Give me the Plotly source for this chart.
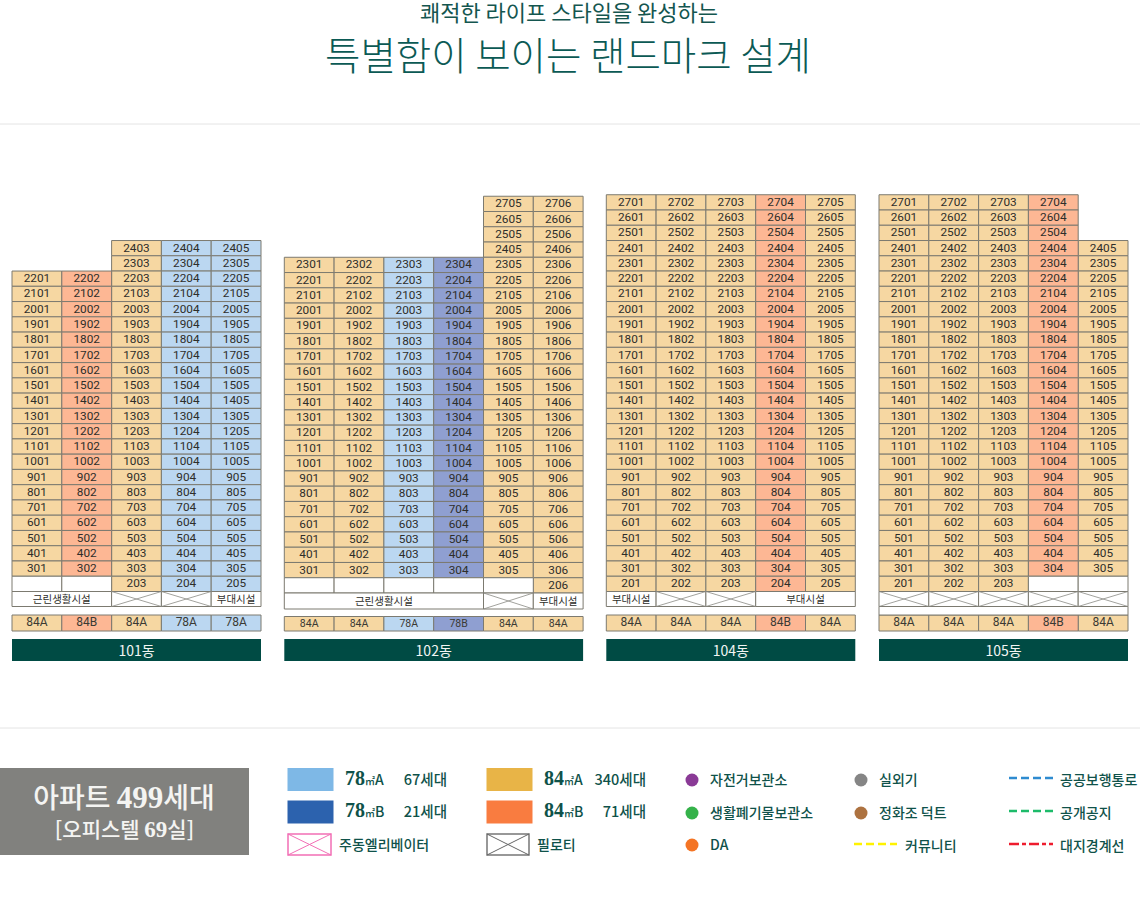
import plotly.graph_objects as go

# ---- data ----
TITLE_TOP = "쾌적한 라이프 스타일을 완성하는"
TITLE_MAIN = "특별함이 보이는 랜드마크 설계"

BUILDINGS = ["101동", "102동", "104동", "105동"]

TYPES_101 = ["84A", "84B", "84A", "78A", "78A"]
TOPS_101 = [22, 22, 24, 24, 24]
LOWS_101 = [3, 3, 2, 2, 2]
BASE_101 = [("근린생활시설", 2), ("X", 1), ("X", 1), ("부대시설", 1)]

TYPES_102 = ["84A", "84A", "78A", "78B", "84A", "84A"]
TOPS_102 = [23, 23, 23, 23, 27, 27]
LOWS_102 = [3, 3, 3, 3, 3, 2]
BASE_102 = [("근린생활시설", 4), ("X", 1), ("부대시설", 1)]

TYPES_104 = ["84A", "84A", "84A", "84B", "84A"]
TOPS_104 = [27, 27, 27, 27, 27]
LOWS_104 = [2, 2, 2, 2, 2]
BASE_104 = [("부대시설", 1), ("X", 1), ("X", 1), ("부대시설", 2)]

TYPES_105 = ["84A", "84A", "84A", "84B", "84A"]
TOPS_105 = [27, 27, 27, 27, 24]
LOWS_105 = [2, 2, 2, 3, 3]
BASE_105 = [("X", 1), ("X", 1), ("X", 1), ("X", 1), ("X", 1)]

LEGEND_AREAS = ["78㎡A", "78㎡B", "84㎡A", "84㎡B"]
LEGEND_COUNTS = ["67세대", "21세대", "340세대", "71세대"]
LEGEND_DOTS = ["자전거보관소", "생활폐기물보관소", "DA", "실외기", "정화조 덕트"]
LEGEND_LINES = ["커뮤니티", "공공보행통로", "공개공지", "대지경계선"]

# ---- styles ----
CELL_COLORS = {"84A": "#F6D7A2", "84B": "#FDB794", "78A": "#BBD7F1", "78B": "#8F9FD1", "W": "#FFFFFF"}
BORDER = "#7C7A70"
DARK = "#004B44"
TEAL = "#0F524A"
KR = "Noto Sans CJK KR"
NUM = "Roboto"
ROW_H = 15.26
COL_W = 49.8

layout_info = [
    # types, tops, lows, base, left, floor 2 bottom, base bottom, type top, type font
    (TYPES_101, TOPS_101, LOWS_101, BASE_101, 12, 591.5, 606.5, 615, 12),
    (TYPES_102, TOPS_102, LOWS_102, BASE_102, 284.3, 593, 609, 616.5, 10.5),
    (TYPES_104, TOPS_104, LOWS_104, BASE_104, 606.3, 591.5, 606.5, 615, 12),
    (TYPES_105, TOPS_105, LOWS_105, BASE_105, 879, 591.5, 606.5, 615, 12),
]

bars = {k: {"x": [], "base": [], "h": [], "w": []} for k in CELL_COLORS}
cell_x, cell_y, cell_t = [], [], []
type_x, type_y, type_t, type_s = [], [], [], []
base_x, base_y, base_t = [], [], []
cross_x, cross_y = [], []


def add_cell(kind, x0, x1, y0, y1):
    b = bars[kind]
    b["x"].append((x0 + x1) / 2)
    b["w"].append(x1 - x0)
    b["base"].append(y0)
    b["h"].append(y1 - y0)


def add_cross(xs, ys, x0, x1, y0, y1):
    xs += [x0, x1, None, x0, x1, None]
    ys += [y0, y1, None, y1, y0, None]


for types, tops, lows, base, left, y2, y_base, y_type, type_font in layout_info:
    for i, kind in enumerate(types):
        x0 = left + i * COL_W
        x1 = x0 + COL_W
        for floor in range(tops[i], 1, -1):
            top = y2 - (floor - 1) * ROW_H
            if floor < lows[i]:
                add_cell("W", x0, x1, top, top + ROW_H)
                continue
            add_cell(kind, x0, x1, top, top + ROW_H)
            cell_x.append((x0 + x1) / 2)
            cell_y.append(top + ROW_H / 2 + 0.6)
            cell_t.append(f"{floor}{i + 1:02d}")
        add_cell(kind, x0, x1, y_type, 631)
        type_x.append((x0 + x1) / 2)
        type_y.append((y_type + 631) / 2 + 0.3)
        type_t.append(kind)
        type_s.append(type_font)
    col = 0
    for label, span in base:
        x0 = left + col * COL_W
        x1 = x0 + span * COL_W
        add_cell("W", x0, x1, y2, y_base)
        if label == "X":
            add_cross(cross_x, cross_y, x0, x1, y2, y_base)
        else:
            base_x.append((x0 + x1) / 2)
            base_y.append((y2 + y_base) / 2 + 1)
            base_t.append(label)
        col += span
    if y_type - y_base < 8.6 and left > 800:
        add_cell("W", left, left + 5 * COL_W, y_base, y_type)

fig = go.Figure()

for kind, b in bars.items():
    fig.add_trace(go.Bar(x=b["x"], y=b["h"], base=b["base"], width=b["w"],
                         marker=dict(color=CELL_COLORS[kind], line=dict(color=BORDER, width=1)),
                         hoverinfo="skip"))

# building name bars
name_x, name_w = [], []
for types, tops, lows, base, left, *_ in layout_info:
    name_x.append(left + len(types) * COL_W / 2)
    name_w.append(len(types) * COL_W)
fig.add_trace(go.Bar(x=name_x, y=[22] * 4, base=[639] * 4, width=name_w,
                     marker=dict(color=DARK, line=dict(width=0)), hoverinfo="skip"))
fig.add_trace(go.Scatter(x=name_x, y=[652] * 4, mode="text", text=BUILDINGS, hoverinfo="skip",
                         textfont=dict(family=KR, size=14, color="#F2F5F3")))

# summary box and colour swatches
fig.add_trace(go.Bar(x=[124.5], y=[87], base=[768], width=[249],
                     marker=dict(color="#81817E", line=dict(width=0)), hoverinfo="skip"))
swatch_colors = ["#7EB8E6", "#2C62AE", "#E8B447", "#F97C40"]
fig.add_trace(go.Bar(x=[310.5, 310.5, 509.5, 509.5], y=[23, 23, 23, 23], base=[768, 800.5, 768, 800.5],
                     width=[46] * 4, marker=dict(color=swatch_colors, line=dict(width=0)), hoverinfo="skip"))
fig.add_trace(go.Bar(x=[309.5], y=[21], base=[834], width=[43],
                     marker=dict(color="#FFFFFF", line=dict(color="#F26FB5", width=1.5)), hoverinfo="skip"))
fig.add_trace(go.Bar(x=[508], y=[21], base=[834], width=[42],
                     marker=dict(color="#FFFFFF", line=dict(color="#777777", width=1.5)), hoverinfo="skip"))

# crosses
fig.add_trace(go.Scatter(x=cross_x, y=cross_y, mode="lines", line=dict(color="#8A8A84", width=0.8), hoverinfo="skip"))
pink_x, pink_y, gray_x, gray_y = [], [], [], []
add_cross(pink_x, pink_y, 288, 331, 834, 855)
add_cross(gray_x, gray_y, 487, 529, 834, 855)
fig.add_trace(go.Scatter(x=pink_x, y=pink_y, mode="lines", line=dict(color="#F26FB5", width=1), hoverinfo="skip"))
fig.add_trace(go.Scatter(x=gray_x, y=gray_y, mode="lines", line=dict(color="#666666", width=1), hoverinfo="skip"))

# divider lines
fig.add_trace(go.Scatter(x=[0, 1140, None, 0, 1140], y=[124, 124, None, 728, 728], mode="lines",
                         line=dict(color="#E4E4E4", width=1), hoverinfo="skip"))

# cell labels
fig.add_trace(go.Scatter(x=cell_x, y=cell_y, mode="text", text=cell_t, hoverinfo="skip",
                         textfont=dict(family=NUM, size=11.8, color="#2E2E2A")))
fig.add_trace(go.Scatter(x=type_x, y=type_y, mode="text", text=type_t, hoverinfo="skip",
                         textfont=dict(family=NUM, size=type_s, color="#3A3A34")))
fig.add_trace(go.Scatter(x=base_x, y=base_y, mode="text", text=base_t, hoverinfo="skip",
                         textfont=dict(family=KR, size=10.5, color="#2E2E2A")))

# titles
fig.add_trace(go.Scatter(x=[569], y=[15.5], mode="text", text=[TITLE_TOP], hoverinfo="skip",
                         textfont=dict(family=KR, size=22, color="#14564F")))
fig.add_trace(go.Scatter(x=[568], y=[60], mode="text", text=[TITLE_MAIN], hoverinfo="skip",
                         textfont=dict(family=KR, size=38.5, color="#0B5A55", weight=300)))

# summary text
fig.add_trace(go.Scatter(
    x=[124, 124.5], y=[803, 832], mode="text", hoverinfo="skip",
    text=['<span style="font-size:28px">아파트 </span><span style="font-family:Liberation Serif;font-size:31px"><b>499</b></span><span style="font-size:28px">세대</span>',
          '<span style="font-size:21px">[오피스텔 </span><span style="font-family:Liberation Serif;font-size:23px"><b>69</b></span><span style="font-size:21px">실]</span>'],
    textfont=dict(family=KR, size=21, color="#F4F4F2", weight=500)))

# legend text


def area_label(s):
    num, unit = s[:2], s[2:]
    return (f'<span style="font-family:Liberation Serif;font-size:20px"><b>{num}</b></span>'
            f'<span style="font-size:10px">㎡</span><span style="font-size:14px">{unit[1:]}</span>')


legend_font = dict(family=KR, size=14, color=TEAL, weight=500)
fig.add_trace(go.Scatter(x=[345, 345, 544, 544], y=[781, 813.5, 781, 813.5], mode="text", hoverinfo="skip",
                         text=[area_label(s) for s in LEGEND_AREAS], textposition="middle right",
                         textfont=legend_font))
fig.add_trace(go.Scatter(x=[447, 447, 646, 646], y=[781, 813.5, 781, 813.5], mode="text", hoverinfo="skip",
                         text=LEGEND_COUNTS, textposition="middle left",
                         textfont=dict(family=KR, size=14.5, color=TEAL, weight=500)))
fig.add_trace(go.Scatter(x=[339, 537], y=[846, 846], mode="text", hoverinfo="skip",
                         text=["주동엘리베이터", "필로티"], textposition="middle right",
                         textfont=legend_font))
fig.add_trace(go.Scatter(x=[710, 710, 710, 879, 879], y=[781, 814, 846, 781, 814], mode="text", hoverinfo="skip",
                         text=LEGEND_DOTS, textposition="middle right",
                         textfont=legend_font))
fig.add_trace(go.Scatter(x=[905, 1060, 1060, 1060], y=[847, 781, 814, 847], mode="text", hoverinfo="skip",
                         text=LEGEND_LINES, textposition="middle right",
                         textfont=legend_font))

# legend dots
fig.add_trace(go.Scatter(x=[692, 692, 692, 861, 861], y=[780, 813, 845, 780, 813], mode="markers", hoverinfo="skip",
                         marker=dict(size=13, color=["#8A3A96", "#35B24A", "#F47424", "#858585", "#AD7240"])))

# legend dashes
for xs, y, color, dash in [([854, 897], 844, "#FFF200", "8px,4px"),
                           ([1009, 1053], 778, "#2E8BD0", "8px,4px"),
                           ([1009, 1053], 811, "#1DBB6A", "8px,4px"),
                           ([1009, 1053], 844, "#EE1C2E", "10px,3px,4px,3px")]:
    fig.add_trace(go.Scatter(x=xs, y=[y, y], mode="lines", hoverinfo="skip",
                             line=dict(color=color, width=2.5, dash=dash)))

fig.update_layout(
    width=1140, height=908, margin=dict(l=0, r=0, t=0, b=0),
    paper_bgcolor="white", plot_bgcolor="white",
    barmode="overlay", showlegend=False,
    xaxis=dict(range=[0, 1140], visible=False, fixedrange=True),
    yaxis=dict(range=[908, 0], visible=False, fixedrange=True),
)

fig.write_html("out.html", config={"displayModeBar": False},
               post_script="document.body.style.margin='0';")
